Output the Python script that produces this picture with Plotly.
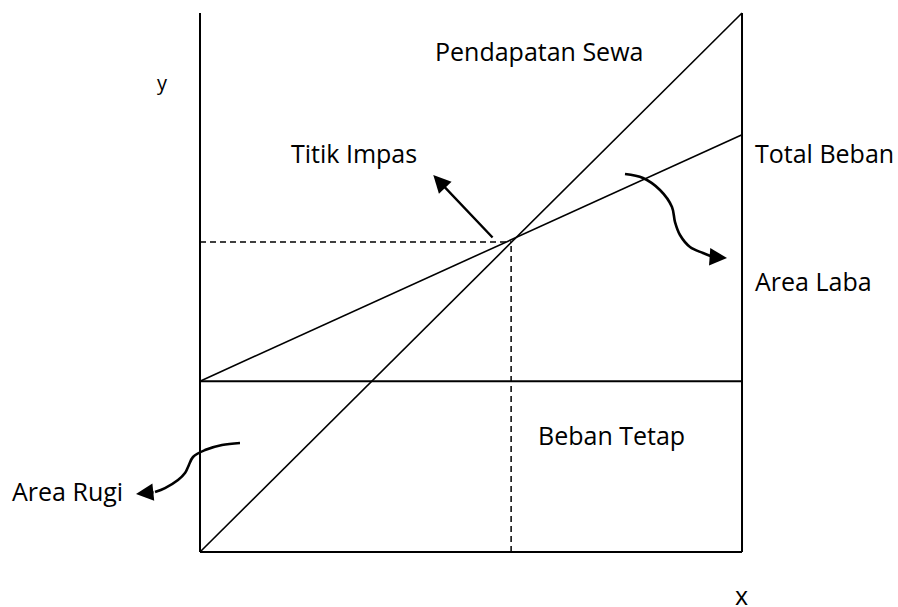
import plotly.graph_objects as go

# ---- data (in chart units: volume 0..100, amount 0..100) ----
volume_span = [0, 100]
fixed_cost = 31.7
total_cost_end = 77.4
revenue_start = 0
revenue_end = 100
break_even_x = 57.4
break_even_y = 57.5
axis_top = 100

labels = ["Pendapatan Sewa", "Titik Impas", "Total Beban", "Area Laba", "Beban Tetap", "Area Rugi", "y", "x"]

# decorative curved arrows (chart units)
laba_curve_x = [78.41, 81.73, 84.87, 87.08, 87.64, 88.56, 90.41, 92.80, 94.65]
laba_curve_y = [70.13, 69.39, 67.16, 64.01, 61.22, 58.81, 56.59, 55.47, 54.73]
rugi_curve_x = [7.38, 4.06, 0.92, -1.29, -2.21, -2.77, -4.06, -6.46, -8.30]
rugi_curve_y = [20.22, 19.85, 18.92, 17.63, 15.77, 14.66, 13.36, 11.87, 11.13]

fig = go.Figure()
blk = "black"

# frame: left axis, right edge, bottom
fig.add_trace(go.Scatter(x=[volume_span[0], volume_span[0]], y=[0, axis_top], mode="lines",
                         line=dict(color=blk, width=2)))
fig.add_trace(go.Scatter(x=[volume_span[1], volume_span[1]], y=[0, axis_top], mode="lines",
                         line=dict(color=blk, width=2)))
fig.add_trace(go.Scatter(x=volume_span, y=[0, 0], mode="lines", line=dict(color=blk, width=2)))
# fixed cost
fig.add_trace(go.Scatter(x=volume_span, y=[fixed_cost, fixed_cost], mode="lines",
                         line=dict(color=blk, width=2)))
# total cost
fig.add_trace(go.Scatter(x=volume_span, y=[fixed_cost, total_cost_end], mode="lines",
                         line=dict(color=blk, width=1.6)))
# revenue
fig.add_trace(go.Scatter(x=volume_span, y=[revenue_start, revenue_end], mode="lines",
                         line=dict(color=blk, width=1.6)))
# break-even dashed guides
fig.add_trace(go.Scatter(x=[volume_span[0], break_even_x], y=[break_even_y, break_even_y], mode="lines",
                         line=dict(color=blk, width=1.5, dash="6px,4px")))
fig.add_trace(go.Scatter(x=[break_even_x, break_even_x], y=[0, break_even_y], mode="lines",
                         line=dict(color=blk, width=1.5, dash="6px,4px")))
# curved arrows
fig.add_trace(go.Scatter(x=laba_curve_x, y=laba_curve_y, mode="lines",
                         line=dict(color=blk, width=2.6, shape="spline", smoothing=1)))
fig.add_trace(go.Scatter(x=rugi_curve_x, y=rugi_curve_y, mode="lines",
                         line=dict(color=blk, width=2.6, shape="spline", smoothing=1)))

font = dict(family="Open Sans", size=25, color=blk)

def txt(t, x, y, xanchor="center", size=25):
    fig.add_annotation(text=t, x=x, y=y, xref="x", yref="y", showarrow=False,
                       xanchor=xanchor, yanchor="middle", font=dict(font, size=size))

txt(labels[0], 62.55, 93.04)
txt(labels[1], 28.32, 74.03)
txt(labels[2], 102.0, 74.03, "left")
txt(labels[3], 102.0, 50.37, "left")
txt(labels[4], 61.99, 21.71, "left")
txt(labels[5], -35.06, 11.32, "left")
txt(labels[6], -6.83, 87.13, size=20)
txt(labels[7], 99.82, -7.9)

def arrow(x, y, ax, ay):
    fig.add_annotation(text="", x=x, y=y, ax=ax, ay=ay, xref="x", yref="y", axref="x", ayref="y",
                       showarrow=True, arrowhead=2, arrowsize=1.45, arrowwidth=2.4, arrowcolor=blk)

# Titik Impas arrow
arrow(43.04, 69.94, 54.24, 58.07)
# arrowheads on curves
arrow(97.23, 54.55, laba_curve_x[-1], laba_curve_y[-1])
arrow(-11.81, 10.76, rugi_curve_x[-1], rugi_curve_y[-1])

fig.update_layout(width=898, height=607, margin=dict(l=0, r=0, t=0, b=0),
                  paper_bgcolor="white", plot_bgcolor="white", showlegend=False)
fig.update_xaxes(visible=False, range=[-36.9, 128.78])
fig.update_yaxes(visible=False, range=[-10.20, 102.41])

fig.write_html("out.html", config={"displayModeBar": False},
               post_script="document.body.style.margin='0';document.body.style.overflow='hidden';")
